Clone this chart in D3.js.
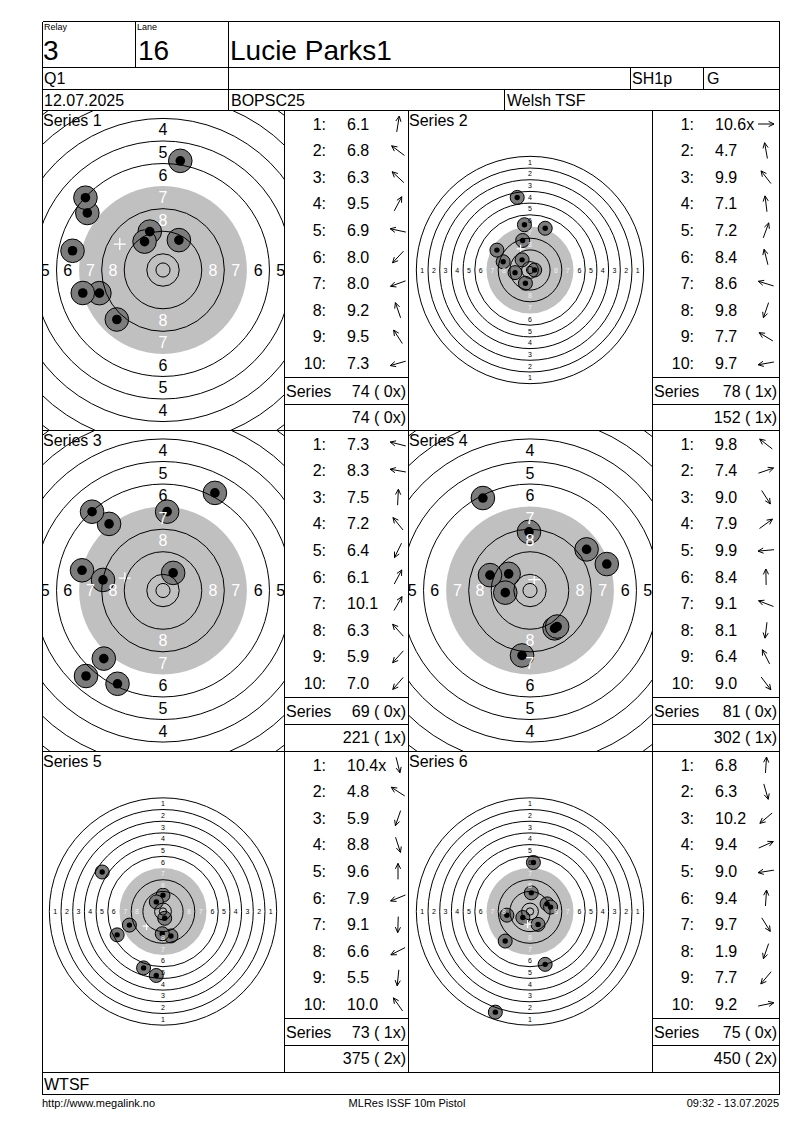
<!DOCTYPE html>
<html><head><meta charset="utf-8">
<script src="https://cdn.jsdelivr.net/npm/d3@7/dist/d3.min.js"></script>
<style>body{margin:0;background:#fff} text{font-family:"Liberation Sans",Arial,sans-serif}</style>
</head><body><svg id="c" width="800" height="1130"></svg>
<script>
// ---------- DATA ----------
const relay = "3", lane = "16", shooter = "Lucie Parks1";
const row2Texts = ["Q1", "", "SH1p", "G"];
const row3Texts = ["12.07.2025", "BOPSC25", "Welsh TSF"];
const bottomText = "WTSF";
const footerTexts = ["http://www.megalink.no", "MLRes ISSF 10m Pistol", "09:32 - 13.07.2025"];

// shot scores (decimal) and direction angle (deg, counter-clockwise from 3 o'clock)
const s1Scores = [6.1, 6.8, 6.3, 9.5, 6.9, 8.0, 8.0, 9.2, 9.5, 7.3];
const s1Angles = [81, 143, 137, 62, 168, 227, 200, 109, 123, 196];
const s2Scores = [10.6, 4.7, 9.9, 7.1, 7.2, 8.4, 8.6, 9.8, 7.7, 9.7];
const s2Angles = [0, 100, 128, 97, 70, 104, 163, 251, 149, 190];
const s3Scores = [7.3, 8.3, 7.5, 7.2, 6.4, 6.1, 10.1, 6.3, 5.9, 7.0];
const s3Angles = [166, 170, 87, 129, 244, 62, 60, 132, 228, 229];
const s4Scores = [9.8, 7.4, 9.0, 7.9, 9.9, 8.4, 9.1, 8.1, 6.4, 9.0];
const s4Angles = [142, 19, 303, 36, 185, 91, 159, 263, 117, 307];
const s5Scores = [10.4, 4.8, 5.9, 8.8, 9.6, 7.9, 9.1, 6.6, 5.5, 10.0];
const s5Angles = [284, 147, 251, 288, 90, 202, 268, 207, 264, 125];
const s6Scores = [6.8, 6.3, 10.2, 9.4, 9.0, 9.4, 9.7, 1.9, 7.7, 9.2];
const s6Angles = [86, 286, 220, 24, 189, 86, 302, 251, 230, 12];
const xShots = [[], [1], [], [], [1], []];          // inner-ten shot numbers
const seriesTotals = [74, 78, 69, 81, 73, 75];
const seriesInner = [0, 1, 0, 0, 1, 0];
const runningTotals = [74, 152, 221, 302, 375, 450];
const runningInner = [0, 1, 1, 1, 2, 2];
const ringLabels = [1, 2, 3, 4, 5, 6, 7, 8];

// ---------- LAYOUT ----------
const allScores = [s1Scores, s2Scores, s3Scores, s4Scores, s5Scores, s6Scores];
const allAngles = [s1Angles, s2Angles, s3Angles, s4Angles, s5Angles, s6Angles];
const zoomedView = [true, false, true, true, false, false];
const svg = d3.select("#c");
svg.append("rect").attr("width", 800).attr("height", 1130).attr("fill", "#fff");
const X0 = 42, X1 = 779, Y0 = 21;
const hdrY = [21, 67, 89, 110];
const rowTops = [110, 430, 751, 1072];
const footY = 1094;
const tgtCols = [[42, 284], [408, 652]];
const tblCols = [[284, 408], [652, 779]];
const defs = svg.append("defs");

// ISSF 10m pistol target geometry (mm)
const ringR = n => 5.75 + 8 * (10 - n);
const innerTenR = 2.5;
const blackR = ringR(7);
const scoreToMM = d3.scaleLinear().domain([11, 1]).range([0, 80]);

function txt(g, x, y, s, size, anchor, fill) {
  return g.append("text").attr("x", x).attr("y", y).attr("font-size", size)
    .attr("text-anchor", anchor || "start").attr("fill", fill || "#000").text(s);
}

allScores.forEach((scores, i) => {
  const col = i % 2, row = Math.floor(i / 2);
  const top = rowTops[row], bot = rowTops[row + 1];
  const [ax0, ax1] = tgtCols[col];
  const cx = (ax0 + ax1) / 2, cy = (top + bot) / 2;
  const big = zoomedView[i];
  const k = big ? 2.82 : 1.462;
  const x = d3.scaleLinear().domain([-1, 1]).range([cx - k, cx + k]);
  const y = d3.scaleLinear().domain([-1, 1]).range([cy + k, cy - k]);
  const rpx = mm => x(mm) - x(0);

  defs.append("clipPath").attr("id", "clip" + i).append("rect")
    .attr("x", ax0).attr("y", top).attr("width", ax1 - ax0).attr("height", bot - top);
  const g = svg.append("g").attr("clip-path", `url(#clip${i})`);

  g.append("circle").attr("cx", x(0)).attr("cy", y(0)).attr("r", rpx(blackR)).attr("fill", "#c0c0c0");

  const shots = scores.map((s, j) => {
    const d = scoreToMM(s), a = allAngles[i][j] * Math.PI / 180;
    return { mx: d * Math.cos(a), my: d * Math.sin(a) };
  });
  const outerR = big ? 11.8 : 7, innerR = big ? 4.8 : 2.7;
  g.selectAll(".shot").data(shots).enter().append("circle")
    .attr("cx", d => x(d.mx)).attr("cy", d => y(d.my)).attr("r", outerR)
    .attr("fill", "#7c7c7c").attr("stroke", "#000").attr("stroke-width", 1);
  g.selectAll(".shotc").data(shots).enter().append("circle")
    .attr("cx", d => x(d.mx)).attr("cy", d => y(d.my)).attr("r", innerR).attr("fill", "#000");

  // mean point of impact
  const mx = d3.mean(shots, d => d.mx), my = d3.mean(shots, d => d.my);
  const cs = big ? 6 : 4;
  g.append("path").attr("d", `M${x(mx) - cs},${y(my)}H${x(mx) + cs}M${x(mx)},${y(my) - cs}V${y(my) + cs}`)
    .attr("stroke", "#fff").attr("stroke-width", 1.3);

  const rings = [1, 2, 3, 4, 5, 6, 8, 9, 10].map(ringR).concat([innerTenR]);
  g.selectAll(".ring").data(rings).enter().append("circle")
    .attr("cx", x(0)).attr("cy", y(0)).attr("r", d => rpx(d))
    .attr("fill", "none").attr("stroke", "#000").attr("stroke-width", 1);

  const fs = big ? 16 : 7;
  ringLabels.forEach(n => {
    const m = ringR(n) - 4;
    const fill = n >= 7 ? (big ? "#fff" : "#f2f2f2") : "#000";
    [[m, 0], [-m, 0], [0, m], [0, -m]].forEach(([px, py]) => {
      const lx = x(px), ly = y(py);
      if (lx < ax0 || lx > ax1 || ly < top + 4 || ly > bot - 4) return;
      g.append("text").attr("x", lx).attr("y", ly).attr("dy", "0.36em")
        .attr("font-size", fs).attr("text-anchor", "middle").attr("fill", fill).text(n);
    });
  });

  txt(svg, ax0 + 1, top + 16, "Series " + (i + 1), 16);

  // table
  const [tx0, tx1] = tblCols[col];
  const tg = svg.append("g");
  scores.forEach((s, j) => {
    const ry = top + 14 + j * 26.6;
    txt(tg, tx0 + 42, ry + 5.5, (j + 1) + ":", 16, "end");
    const isX = xShots[i].includes(j + 1);
    txt(tg, tx0 + 63, ry + 5.5, s.toFixed(1) + (isX ? "x" : ""), 16);
    const a = allAngles[i][j] * Math.PI / 180;
    const ux = Math.cos(a), uy = -Math.sin(a);
    const ax = tx0 + 114, L = 8;
    const hx = ax + ux * L, hy = ry + uy * L;
    const b1 = a + Math.PI - 0.45, b2 = a + Math.PI + 0.45;
    tg.append("path")
      .attr("d", `M${ax - ux * L},${ry - uy * L}L${hx},${hy}M${hx + Math.cos(b1) * 6},${hy - Math.sin(b1) * 6}L${hx},${hy}L${hx + Math.cos(b2) * 6},${hy - Math.sin(b2) * 6}`)
      .attr("stroke", "#000").attr("stroke-width", 1).attr("fill", "none");
  });
  txt(tg, tx0 + 2, top + 287, "Series", 16);
  txt(tg, tx1 - 2, top + 287, `${seriesTotals[i]} ( ${seriesInner[i]}x)`, 16, "end");
  txt(tg, tx1 - 2, top + 313, `${runningTotals[i]} ( ${runningInner[i]}x)`, 16, "end");
  [top + 267, top + 294].forEach(ly => {
    svg.append("line").attr("x1", tx0).attr("x2", tx1).attr("y1", ly + 0.5).attr("y2", ly + 0.5)
      .attr("stroke", "#000").attr("shape-rendering", "crispEdges");
  });
});

// ---------- HEADER / GRID ----------
function ln(x1, y1, x2, y2) {
  svg.append("line").attr("x1", x1 + 0.5).attr("y1", y1 + 0.5).attr("x2", x2 + 0.5).attr("y2", y2 + 0.5)
    .attr("stroke", "#000").attr("stroke-width", 1).attr("shape-rendering", "crispEdges");
}
ln(X0, Y0, X1, Y0); ln(X0, Y0, X0, footY); ln(X1, Y0, X1, footY); ln(X0, footY, X1, footY);
hdrY.slice(1).forEach(yy => ln(X0, yy, X1, yy));
rowTops.slice(1).forEach(yy => ln(X0, yy, X1, yy));
ln(135, 21, 135, 67); ln(228, 21, 228, 67);
ln(228, 67, 228, 89); ln(630, 67, 630, 89); ln(703, 67, 703, 89);
ln(228, 89, 228, 110); ln(504, 89, 504, 110);
[284, 408, 652].forEach(xx => ln(xx, 110, xx, 1072));

txt(svg, 44, 30, "Relay", 9);
txt(svg, 137, 30, "Lane", 9);
txt(svg, 43, 60, relay, 28);
txt(svg, 138, 60, lane, 28);
txt(svg, 230, 60, shooter, 28);
[44, 231, 632, 707].forEach((xx, j) => txt(svg, xx, 84, row2Texts[j], 16));
[44, 231, 507].forEach((xx, j) => txt(svg, xx, 106, row3Texts[j], 16));
txt(svg, 44, 1090, bottomText, 16);
txt(svg, 42, 1107, footerTexts[0], 11);
txt(svg, 407, 1107, footerTexts[1], 11, "middle");
txt(svg, 779, 1107, footerTexts[2], 11, "end");
</script></body></html>
